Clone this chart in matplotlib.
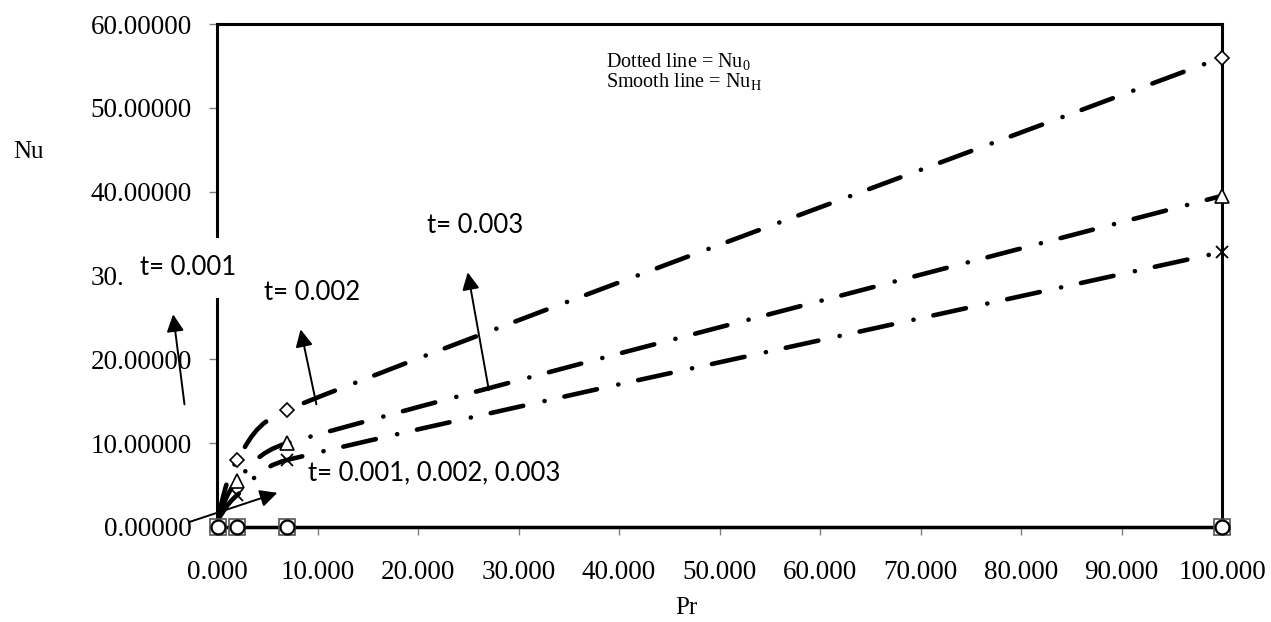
import numpy as np
import matplotlib
matplotlib.use("Agg")
import matplotlib.pyplot as plt
from matplotlib.path import Path
from matplotlib.patches import PathPatch

plt.rcParams['font.family'] = ['Liberation Serif', 'DejaVu Serif']
plt.rcParams['mathtext.fontset'] = 'custom'
plt.rcParams['mathtext.rm'] = 'Liberation Serif'
plt.rcParams['lines.scale_dashes'] = False

# Prandtl numbers and Nusselt numbers for t = 0.001, 0.002, 0.003
pr = [0.1, 2.0, 7.0, 100.0]
nu_h_1 = [1.2, 8.0, 14.0, 56.0]
nu_h_2 = [1.0, 5.5, 10.0, 39.5]
nu_h_3 = [0.9, 3.8, 8.0, 32.8]
nu_0 = [0.0, 0.0, 0.0, 0.0]

xticks = np.arange(0, 101, 10)
yticks = np.arange(0, 61, 10)

W, H = 1271, 622
L, R, T, B = 217, 1222, 24, 527
sx = (R - L) / 100.0   # pixels per Pr unit
sy = (B - T) / 60.0    # pixels per Nu unit


def smooth(xs, ys):
    # bezier "smoothed line": catmull-rom tangents, arms capped at half a segment
    p = np.column_stack([np.array(xs) * sx, np.array(ys) * sy])
    n = len(p)
    verts = [p[0]]
    codes = [Path.MOVETO]
    for i in range(n - 1):
        p0 = p[max(i - 1, 0)]
        p1 = p[i]
        p2 = p[i + 1]
        p3 = p[min(i + 2, n - 1)]
        seg = np.hypot(*(p2 - p1)) / 2
        a1 = (p2 - p0) / 6
        a2 = (p3 - p1) / 6
        if np.hypot(*a1) > seg:
            a1 = a1 / np.hypot(*a1) * seg
        if np.hypot(*a2) > seg:
            a2 = a2 / np.hypot(*a2) * seg
        verts += [p1 + a1, p2 - a2, p2]
        codes += [Path.CURVE4] * 3
    verts = np.array(verts) / [sx, sy]
    return Path(verts, codes)


fig = plt.figure(figsize=(W / 100, H / 100), dpi=100)
ax = fig.add_axes([L / W, 1 - B / H, (R - L) / W, (B - T) / H])

dashdot = (0, (24, 15.7, 0.1, 14.6))
for ys in (nu_h_1, nu_h_2, nu_h_3):
    pp = PathPatch(smooth(pr, ys), facecolor='none', edgecolor='black',
                   lw=3.3, linestyle=dashdot, zorder=3)
    pp.set_capstyle('round')
    ax.add_patch(pp)

ax.plot(pr, nu_0, color='black', lw=2.5, zorder=3, clip_on=False)
ax.plot(pr, nu_0, 's', ms=11, mfc='white', mec='#555555', mew=1.2, zorder=4, clip_on=False)
ax.plot(pr, nu_0, 'o', ms=10, mfc='white', mec='black', mew=1.6, zorder=5, clip_on=False)

ax.plot(pr[1:], nu_h_1[1:], 'D', ms=7, mfc='white', mec='black', mew=1.2, zorder=5, clip_on=False)
ax.plot(pr[1:], nu_h_2[1:], '^', ms=10, mfc='white', mec='black', mew=1.2, zorder=5, clip_on=False)
ax.plot(pr[1:], nu_h_3[1:], 'x', ms=9, mec='black', mew=1.3, zorder=5, clip_on=False)

ax.set_xlim(0, 100)
ax.set_ylim(0, 60)
ax.set_xticks(xticks)
ax.set_yticks(yticks)
ax.set_xticklabels(['%.3f' % v for v in xticks])
ax.set_yticklabels(['%.5f' % v for v in yticks])
ax.tick_params(direction='out', length=6, width=1, color='#808080',
               labelsize=19.5, pad=12)
ax.tick_params(axis='x', pad=18)
for s in ax.spines.values():
    s.set_linewidth(2.2)

fig.text(28 / W, 1 - 152 / H, 'Nu', fontsize=18, ha='center', va='center')
fig.text(686 / W, 1 - 608 / H, 'Pr', fontsize=18, ha='center', va='center')

ax.text(0.387, 0.945, 'Dotted line = Nu$_\\mathregular{0}$\nSmooth line = Nu$_\\mathregular{H}$',
        transform=ax.transAxes, fontsize=14.5, va='top', ha='left', linespacing=0.95)

cal = ['Lato', 'DejaVu Sans']
arrow = dict(arrowstyle='-|>', lw=1.4, color='black', mutation_scale=26)

# label box hides part of the y axis and the 30 tick label
ax.text(-2.9, 30.9, 't= 0.001', family=cal, fontsize=18.5, ha='center', va='center',
        bbox=dict(boxstyle='square,pad=0.68', fc='white', ec='none'), zorder=6, clip_on=False)
ax.annotate('', xy=(-4.4, 25.7), xytext=(-3.2, 14.3), arrowprops=arrow, annotation_clip=False)

ax.text(9.45, 28.0, 't= 0.002', family=cal, fontsize=18.5, ha='center', va='center', zorder=6)
ax.annotate('', xy=(8.26, 23.9), xytext=(9.95, 14.3), arrowprops=arrow)

ax.text(25.7, 36.0, 't= 0.003', family=cal, fontsize=18.5, ha='center', va='center', zorder=6)
ax.annotate('', xy=(24.9, 30.7), xytext=(27.1, 16.0), arrowprops=arrow)

ax.text(9.05, 6.44, 't= 0.001, 0.002, 0.003', family=cal, fontsize=18.5, ha='left', va='center', zorder=6)
ax.annotate('', xy=(6.27, 4.18), xytext=(-3.0, 0.5), arrowprops=arrow, annotation_clip=False)

fig.savefig('out.png', dpi=100)
